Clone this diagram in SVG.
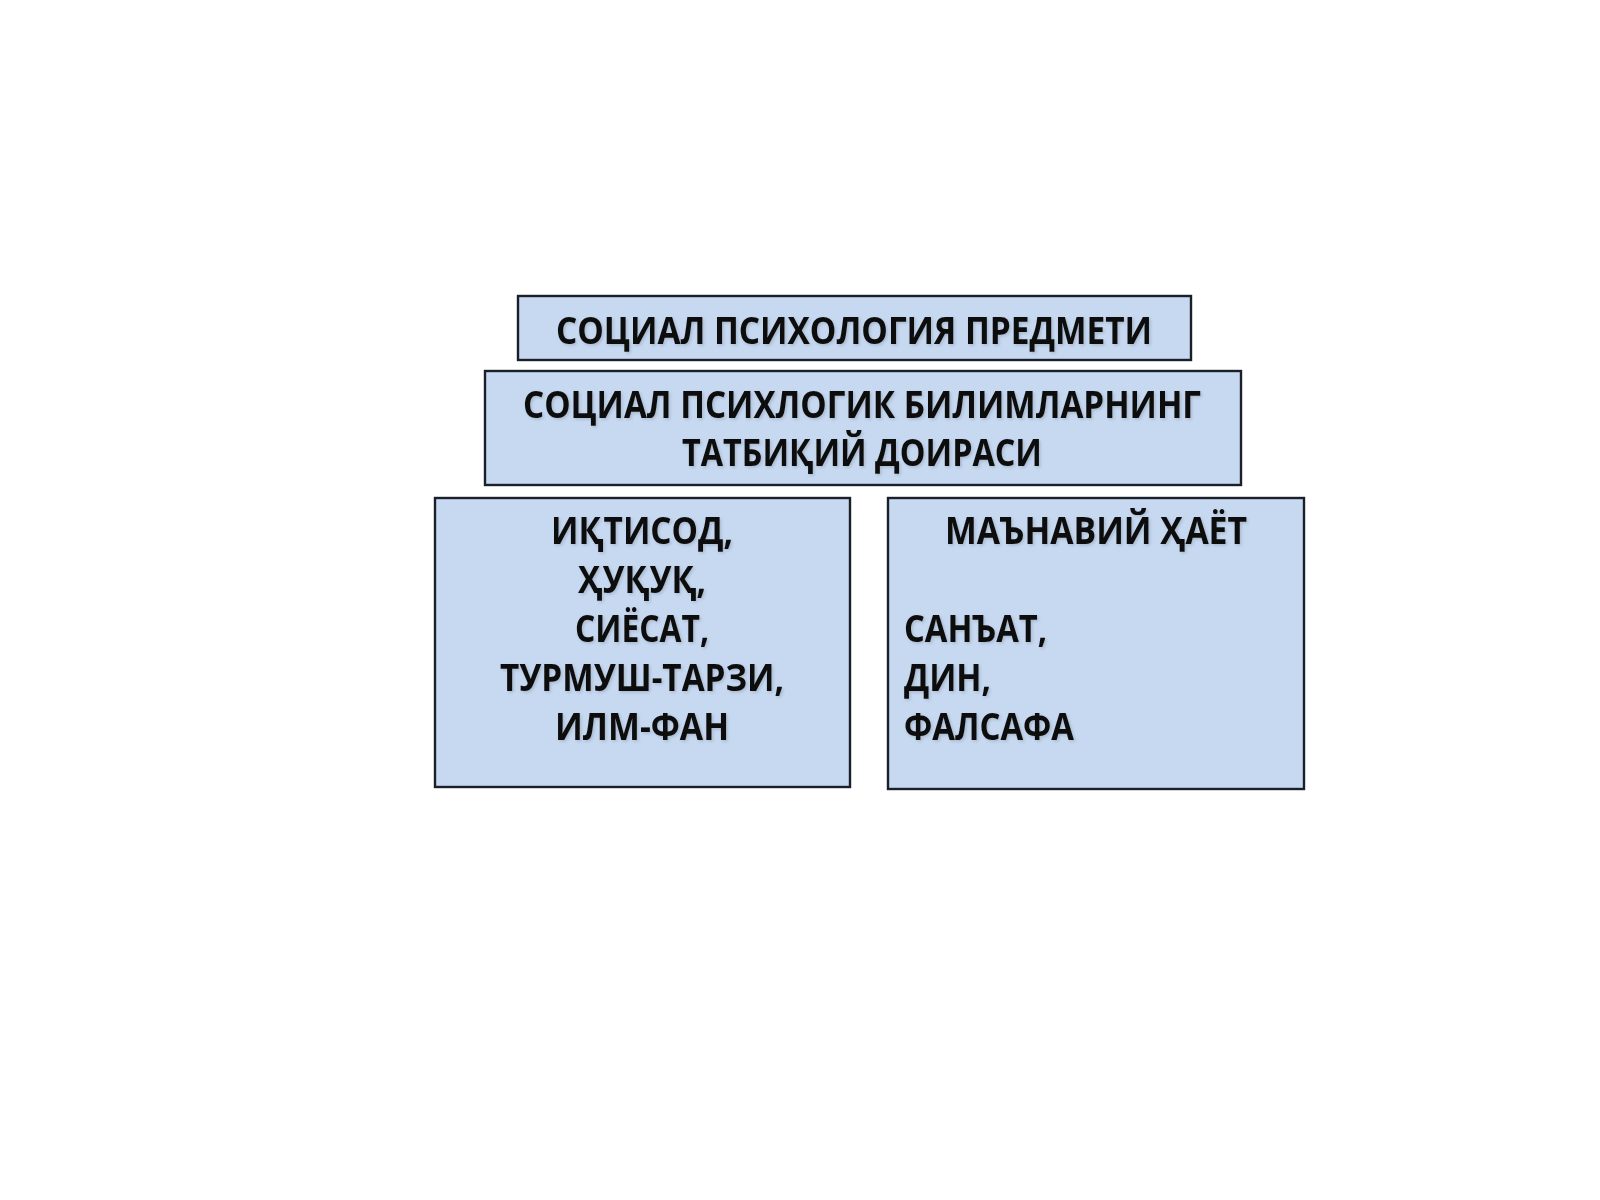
<svg xmlns="http://www.w3.org/2000/svg" width="1600" height="1200" viewBox="0 0 1600 1200">
  <defs>
    <filter id="sh" x="-5%" y="-20%" width="110%" height="140%">
      <feDropShadow dx="1.5" dy="1.5" stdDeviation="1.5" flood-color="#000" flood-opacity="0.15"/>
    </filter>
  </defs>
  <style>
    .box { fill: #c6d9f1; stroke: #1a1f2a; stroke-width: 2.4; }
    .t { font-family: "Open Sans", "Noto Sans", "DejaVu Sans", sans-serif; font-weight: bold; font-size: 38px; fill: #111; filter: url(#sh); }
    .c { text-anchor: middle; }
  </style>
  <rect x="0" y="0" width="1600" height="1200" fill="#ffffff"/>
  <g id="connectors"></g>
  <g id="node-subject">
    <rect class="box" x="518" y="296" width="673" height="64"/>
    <text class="t c" x="854" y="344" textLength="596" lengthAdjust="spacingAndGlyphs">СОЦИАЛ ПСИХОЛОГИЯ ПРЕДМЕТИ</text>
  </g>
  <g id="node-scope">
    <rect class="box" x="485" y="371" width="756" height="114"/>
    <text class="t c" x="862" y="418" textLength="678" lengthAdjust="spacingAndGlyphs">СОЦИАЛ ПСИХЛОГИК БИЛИМЛАРНИНГ</text>
    <text class="t c" x="862" y="466" textLength="360" lengthAdjust="spacingAndGlyphs">ТАТБИҚИЙ ДОИРАСИ</text>
  </g>
  <g id="node-left">
    <rect class="box" x="435" y="498" width="415" height="289"/>
    <text class="t c" x="642" y="544" textLength="182" lengthAdjust="spacingAndGlyphs">ИҚТИСОД,</text>
    <text class="t c" x="642" y="593" textLength="128" lengthAdjust="spacingAndGlyphs">ҲУҚУҚ,</text>
    <text class="t c" x="642" y="642" textLength="134" lengthAdjust="spacingAndGlyphs">СИЁСАТ,</text>
    <text class="t c" x="642" y="691" textLength="284" lengthAdjust="spacingAndGlyphs">ТУРМУШ-ТАРЗИ,</text>
    <text class="t c" x="642" y="740" textLength="174" lengthAdjust="spacingAndGlyphs">ИЛМ-ФАН</text>
  </g>
  <g id="node-right">
    <rect class="box" x="888" y="498" width="416" height="291"/>
    <text class="t c" x="1096" y="544" textLength="302" lengthAdjust="spacingAndGlyphs">МАЪНАВИЙ ҲАЁТ</text>
    <text class="t" x="904" y="642" textLength="143" lengthAdjust="spacingAndGlyphs">САНЪАТ,</text>
    <text class="t" x="904" y="691" textLength="87" lengthAdjust="spacingAndGlyphs">ДИН,</text>
    <text class="t" x="904" y="740" textLength="170" lengthAdjust="spacingAndGlyphs">ФАЛСАФА</text>
  </g>
</svg>
